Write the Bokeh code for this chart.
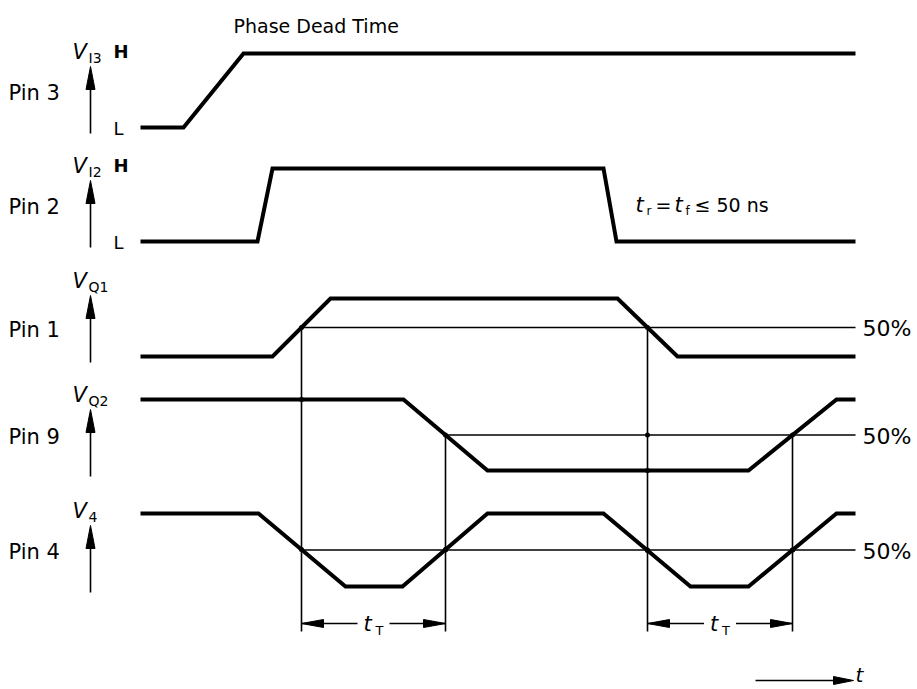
import numpy as np
from bokeh.plotting import figure
from bokeh.models import Range1d
from bokeh.core.properties import value
from bokeh.embed import file_html
from bokeh.resources import INLINE

# ---------------- data ----------------
pin_names = ["Pin 3", "Pin 2", "Pin 1", "Pin 9", "Pin 4"]
signal_subs = ["I3", "I2", "Q1", "Q2", "4"]
has_hl = [True, True, False, False, False]
threshold_pins = [False, False, True, True, True]
threshold_level = 0.5
threshold_label = "50%"
title_text = "Phase Dead Time"
note_parts = ["t", "r", "=", "t", "f", "\u2264 50 ns"]

t_pin3 = [140, 183, 243, 855]
v_pin3 = [0, 0, 1, 1]
t_pin2 = [140, 257, 272, 603, 616, 855]
v_pin2 = [0, 0, 1, 1, 0, 0]
t_pin1 = [140, 272, 330, 617, 677, 855]
v_pin1 = [0, 0, 1, 1, 0, 0]
t_pin9 = [140, 403, 487, 748, 836, 855]
v_pin9 = [1, 1, 0, 0, 1, 1]
t_pin4 = [140, 258, 345, 402, 487, 603, 690, 748, 836, 855]
v_pin4 = [1, 1, 0, 0, 1, 1, 0, 0, 1, 1]

times = [t_pin3, t_pin2, t_pin1, t_pin9, t_pin4]
levels = [v_pin3, v_pin2, v_pin1, v_pin9, v_pin4]

# ---------------- layout ----------------
track_low = [127, 241, 356, 470, 586]
track_amp = [74, 73, 58, 71, 73]
FONT = "DejaVu Sans"
INK = "#000000"
W, H = 917, 689


def ypos(i, lv):
    return track_low[i] - np.asarray(lv, dtype=float) * track_amp[i]


def crossings(t, v, th):
    out = []
    for k in range(len(t) - 1):
        if (v[k] - th) * (v[k + 1] - th) < 0:
            out.append(t[k] + (th - v[k]) / (v[k + 1] - v[k]) * (t[k + 1] - t[k]))
    return out


p = figure(width=W, height=H, x_range=Range1d(0, W), y_range=Range1d(H, 0),
           output_backend="svg", toolbar_location=None, x_axis_type=None,
           y_axis_type=None, min_border=0, outline_line_color=None)
p.grid.visible = False
p.background_fill_color = "white"
p.border_fill_color = "white"


def head(xt, yt, dx, dy, length, hw):
    # triangle with tip at (xt, yt) pointing in direction (dx, dy)
    bx, by = xt - dx * length, yt - dy * length
    px, py = -dy, dx
    return [xt, bx + px * hw, bx - px * hw], [yt, by + py * hw, by - py * hw]


def label(x, y, s, size, style="normal", align="left"):
    p.text(x=[x], y=[y], text=[s], text_font=value(FONT), text_font_style=style,
           text_font_size=size, text_align=align, text_baseline="middle", text_color=INK)


heads_x, heads_y = [], []

# waveforms
for i in range(5):
    p.line(times[i], ypos(i, levels[i]), line_width=4, line_color=INK, line_join="miter")

# threshold lines and 50% labels
cross = [crossings(times[i], levels[i], threshold_level) for i in range(5)]
for i in range(5):
    if threshold_pins[i]:
        yth = float(ypos(i, [threshold_level])[0])
        p.line([cross[i][0], times[i][-1]], [yth, yth], line_width=1.6, line_color=INK)
        label(862, yth + 1, threshold_label, "22px")

# verticals at threshold crossings of Pin 1 and Pin 9
vert_bottom = 631
dim_y = 623
dots_x, dots_y = [], []
for src in (2, 3):
    yth = float(ypos(src, [threshold_level])[0])
    for xc in cross[src]:
        p.line([xc, xc], [yth, vert_bottom], line_width=1.6, line_color=INK)
        dots_x.append(xc); dots_y.append(yth)
        for j in range(src + 1, 5):
            dots_x.append(xc); dots_y.append(float(ypos(j, [np.interp(xc, times[j], levels[j])])[0]))
            if threshold_pins[j] and xc >= cross[j][0]:
                dots_x.append(xc); dots_y.append(float(ypos(j, [threshold_level])[0]))
p.scatter(dots_x, dots_y, size=5, fill_color=INK, line_color=None)

# t_T dimension arrows
for a, b in zip(cross[2], cross[3]):
    c = (a + b) / 2
    p.line([a, c - 16], [dim_y, dim_y], line_width=1.6, line_color=INK)
    p.line([c + 16, b], [dim_y, dim_y], line_width=1.6, line_color=INK)
    hx, hy = head(a, dim_y, -1, 0, 22, 4); heads_x.append(hx); heads_y.append(hy)
    hx, hy = head(b, dim_y, 1, 0, 22, 4); heads_x.append(hx); heads_y.append(hy)
    label(c - 10, dim_y, "t", "21px", "italic")
    label(c + 2, dim_y + 7, "T", "13px")

# left side labels and arrows
arrow_x = 90
for i in range(5):
    low = track_low[i]
    top = low - 61
    p.line([arrow_x, arrow_x], [low + 6, top + 18], line_width=1.6, line_color=INK)
    hx, hy = head(arrow_x, top, 0, -1, 23, 4.5); heads_x.append(hx); heads_y.append(hy)
    mid = low - track_amp[i] / 2
    label(8, mid + 2, pin_names[i], "21px")
    label(72, top - 15, "V", "21px", "italic")
    label(88, top - 9, signal_subs[i], "14px")
    if has_hl[i]:
        label(113, top - 15, "H", "18px", "bold")
        label(113, low + 1, "L", "18px")

# title
label(233, 25, title_text, "19px")

# rise/fall time note
ny = 204
note_x = [635, 646, 655, 674, 685, 694]
note_dy = [0, 6, 0, 0, 6, 0]
note_sz = ["21px", "12px", "19px", "21px", "12px", "19px"]
note_st = ["italic", "normal", "normal", "italic", "normal", "normal"]
for k in range(6):
    label(note_x[k], ny + note_dy[k], note_parts[k], note_sz[k], note_st[k])

# time axis arrow
ty = 680
p.line([755, 835], [ty, ty], line_width=1.6, line_color=INK)
hx, hy = head(853, ty, 1, 0, 20, 4); heads_x.append(hx); heads_y.append(hy)
label(855, ty - 6, "t", "20px", "italic")

p.patches(heads_x, heads_y, fill_color=INK, line_color=INK, line_width=1)

open("out.html", "w").write(file_html(p, INLINE))
